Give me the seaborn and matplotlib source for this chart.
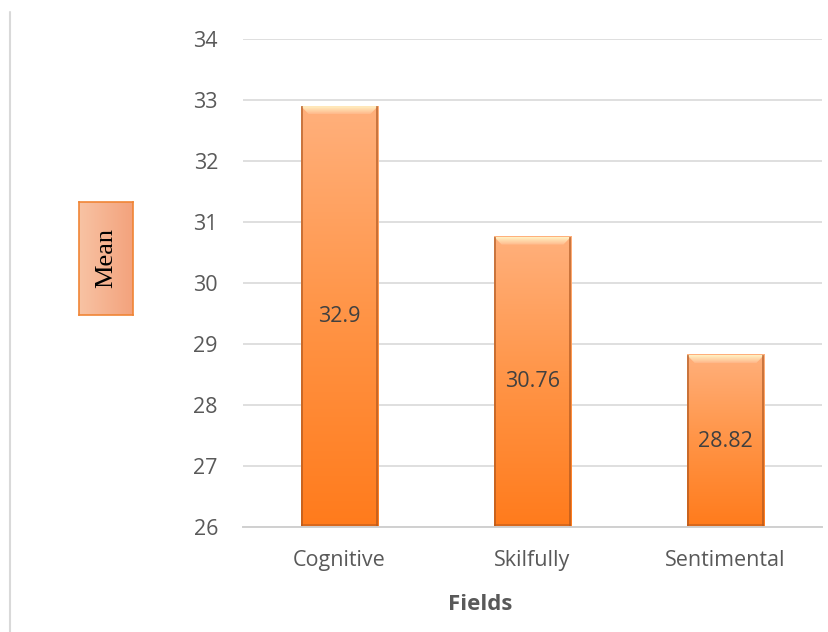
import numpy as np
import pandas as pd
import matplotlib
matplotlib.use("Agg")
import matplotlib.pyplot as plt
import seaborn as sns
from matplotlib.colors import LinearSegmentedColormap
from matplotlib.patches import Rectangle, Polygon

categories = ["Cognitive", "Skilfully", "Sentimental"]
means = [32.9, 30.76, 28.82]
y_ticks = [26, 27, 28, 29, 30, 31, 32, 33, 34]

sns.set_theme(style="white")
plt.rcParams["font.family"] = ["Open Sans", "DejaVu Sans"]

df = pd.DataFrame({"Fields": categories, "Mean": means})

fig = plt.figure(figsize=(8.29, 6.32), dpi=100)
ax = fig.add_axes([0.2931, 0.1661, 0.6985, 0.7722])

sns.barplot(data=df, x="Fields", y="Mean", ax=ax, width=0.40,
            color="#FF9A50", linewidth=0, zorder=3)
ymin, ymax = y_ticks[0], y_ticks[-1]

# vertical orange gradient inside each bar, plus a bevelled rim
grad_cmap = LinearSegmentedColormap.from_list("bar", ["#FF7B1C", "#FF9446", "#FFB07C"])
grad = np.linspace(0, 1, 256).reshape(-1, 1)
bevel_cmap = LinearSegmentedColormap.from_list("bevel", ["#FFB88A", "#FFF2C4"])
dx, dy = 0.04, 0.13
for patch in list(ax.patches):
    x0, w = patch.get_x(), patch.get_width()
    top = patch.get_y() + patch.get_height()
    h = top - ymin
    ax.imshow(grad, cmap=grad_cmap, origin="lower", aspect="auto",
              extent=[x0, x0 + w, ymin, top], zorder=3.5)
    # bevelled top face
    bevel = Polygon([(x0, top), (x0 + w, top), (x0 + w - dx, top - dy), (x0 + dx, top - dy)],
                    closed=True, facecolor="none", edgecolor="none")
    ax.add_patch(bevel)
    bim = ax.imshow(grad, cmap=bevel_cmap, origin="lower", aspect="auto",
                    extent=[x0, x0 + w, top - dy, top], zorder=3.8)
    bim.set_clip_path(bevel)
    # darker sides and base
    for xs in (x0, x0 + w - 0.009):
        ax.add_patch(Rectangle((xs, ymin), 0.009, h, facecolor="#A8521C",
                               edgecolor="none", alpha=0.6, zorder=4))
    ax.add_patch(Rectangle((x0, ymin), w, 0.05, facecolor="#B85A1C",
                           edgecolor="none", alpha=0.55, zorder=4))

ax.set_autoscale_on(False)
ax.set_ylim(ymin, ymax)
ax.set_xlim(-0.5, len(categories) - 0.5)
ax.set_yticks(y_ticks)

for i, v in enumerate(means):
    ax.text(i, (ymin + v) / 2, f"{v:g}", ha="center", va="center",
            fontsize=15.5, color="#404040", zorder=6)

ax.grid(axis="y", color="#D9D9D9", linewidth=1.2, zorder=0)
for side in ["top", "right", "left"]:
    ax.spines[side].set_visible(False)
ax.spines["bottom"].set_color("#D0D0D0")
ax.spines["bottom"].set_linewidth(1.4)
ax.spines["bottom"].set_zorder(5)
ax.tick_params(axis="both", length=0, labelsize=15.5, labelcolor="#595959")
ax.tick_params(axis="y", pad=18)
ax.tick_params(axis="x", pad=16.5)
ax.set_ylabel("")
ax.set_xlabel("Fields", fontsize=16, fontweight="bold", color="#595959")
ax.xaxis.set_label_coords(0.409, -0.137)

# boxed y-axis title
box_ax = fig.add_axes([79 / 829, 1 - 315 / 632, 54 / 829, 113 / 632])
box_ax.imshow(np.linspace(0, 1, 256).reshape(1, -1), aspect="auto",
              cmap=LinearSegmentedColormap.from_list("box", ["#F8C3A4", "#F3A27C"]),
              extent=[0, 1, 0, 1])
box_ax.set_xlim(0, 1)
box_ax.set_ylim(0, 1)
for s in box_ax.spines.values():
    s.set_color("#F08536")
    s.set_linewidth(1.2)
box_ax.set_xticks([])
box_ax.set_yticks([])
box_ax.text(0.5, 0.5, "Mean", rotation=90, ha="center", va="center",
            fontsize=19, family=["Liberation Serif", "DejaVu Serif"], color="black")

# thin frame line along the left edge
fig.add_artist(plt.Line2D([10.5 / 829, 10.5 / 829], [0, 1 - 12 / 632],
                          color="#D9D9D9", linewidth=1.5))

fig.savefig("out.png", dpi=100)
